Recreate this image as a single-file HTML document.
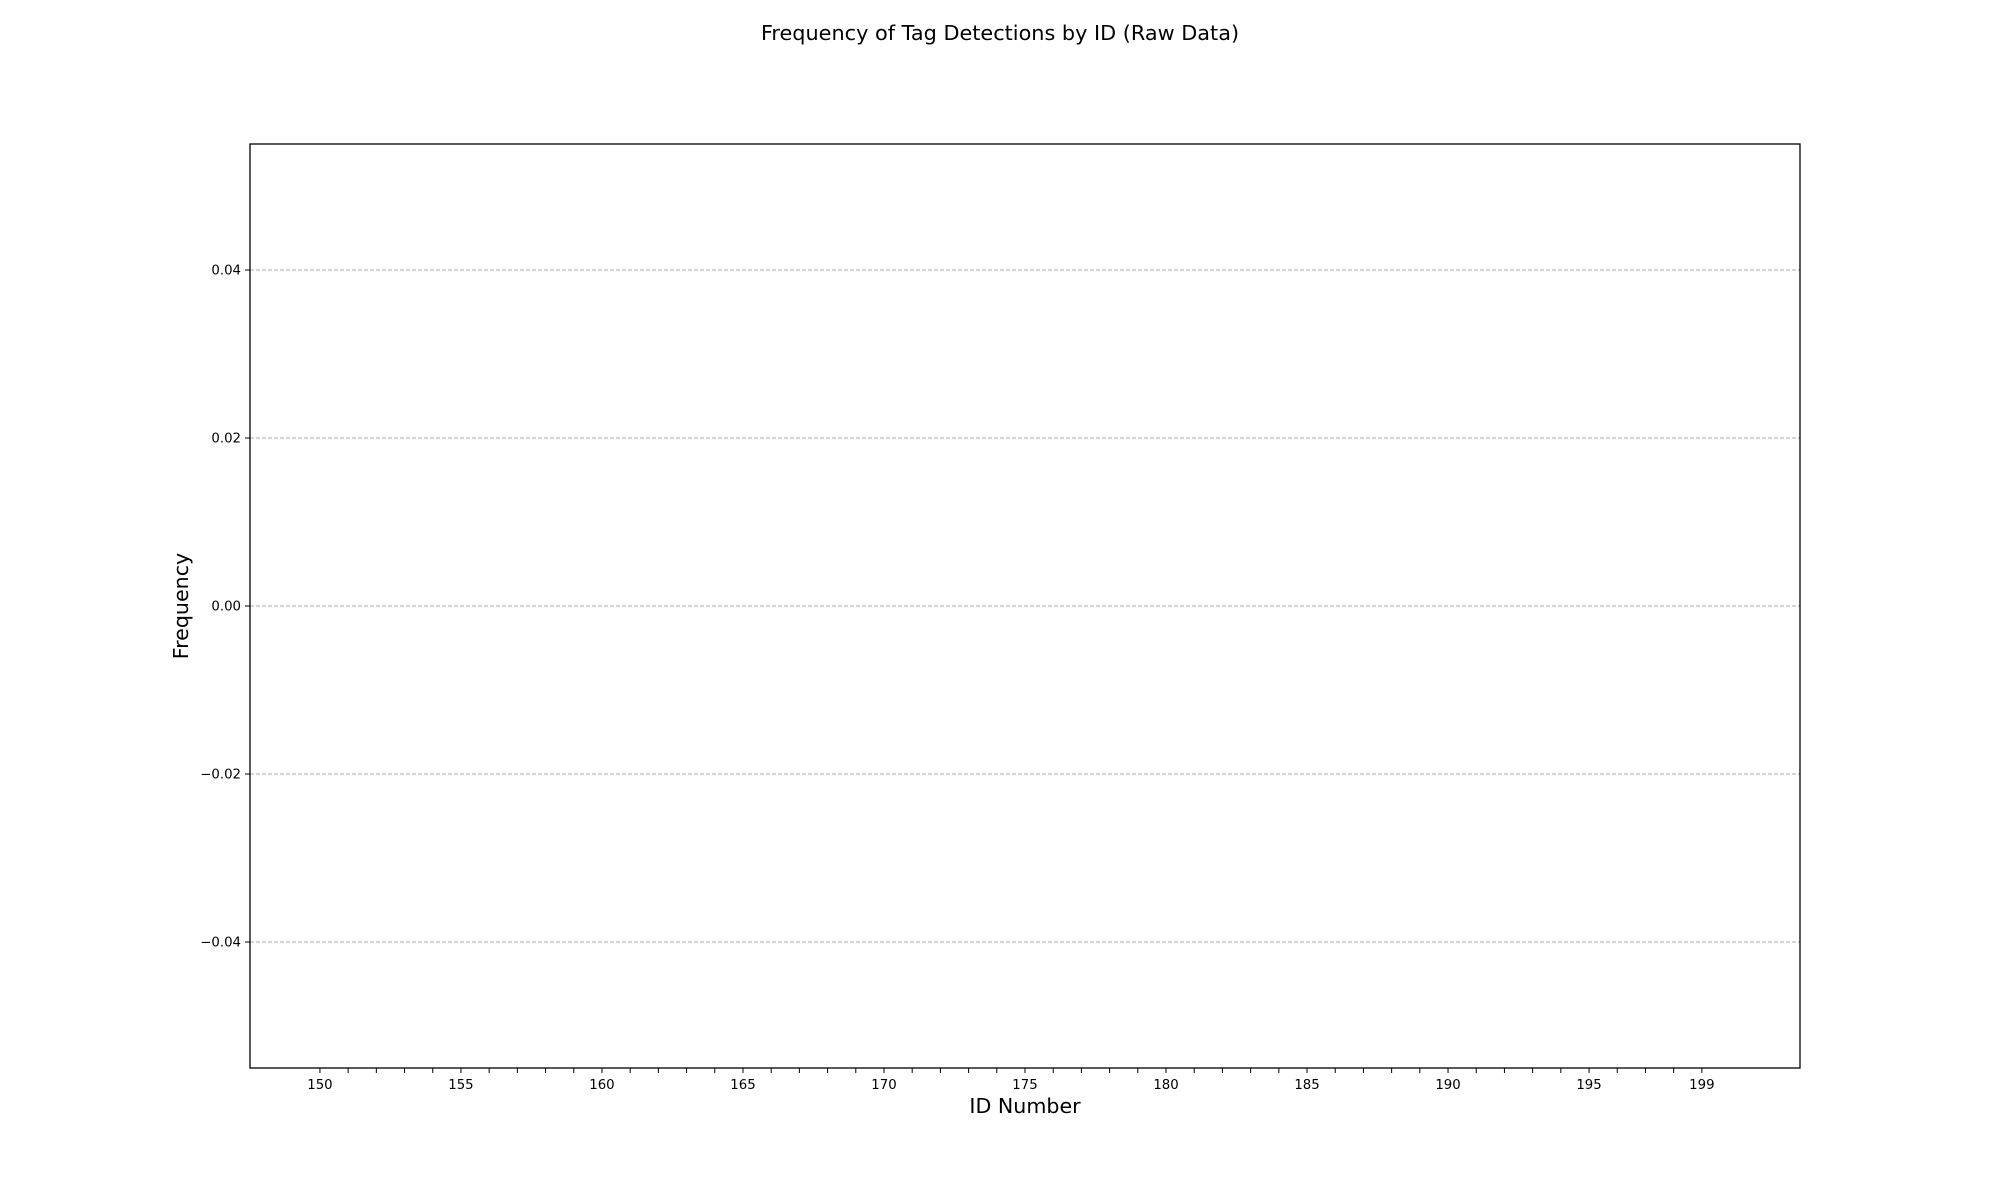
<!DOCTYPE html>
<html><head><meta charset="utf-8"><style>
html,body{margin:0;padding:0;background:#fff;}
svg{display:block;font-family:"DejaVu Sans","Liberation Sans",sans-serif;}
</style></head><body>
<svg id="chart" width="2000" height="1200" xmlns="http://www.w3.org/2000/svg">
<rect width="2000" height="1200" fill="#fff"/>
<text x="1000" y="40" text-anchor="middle" font-size="20.8">Frequency of Tag Detections by ID (Raw Data)</text>
<g id="grid"></g>
<g id="bars"></g>
<g id="axes"></g>
<rect x="250" y="144" width="1550" height="924" fill="none" stroke="#000" stroke-width="1.3"/>
<text x="1025" y="1113" text-anchor="middle" font-size="20.6">ID Number</text>
<text transform="translate(188,606) rotate(-90)" text-anchor="middle" font-size="20.6">Frequency</text>
</svg>
<script>
const ids = [];
for (let i = 150; i <= 199; i++) ids.push(i);
const counts = new Array(50).fill(0);
const xTickLabels = [150,155,160,165,170,175,180,185,190,195,199];
const yTicks = [-0.04,-0.02,0.00,0.02,0.04];
const yTickLabels = ["\u22120.04","\u22120.02","0.00","0.02","0.04"];

const L=250,R=1800,T=144,B=1068;
const xMin=147.52,xMax=202.48,yMin=-0.055,yMax=0.055;
const xs=v=>L+(v-xMin)/(xMax-xMin)*(R-L);
const ys=v=>B-(v-yMin)/(yMax-yMin)*(B-T);
const NS="http://www.w3.org/2000/svg";
function mk(tag,attrs,parent){const e=document.createElementNS(NS,tag);for(const k in attrs)e.setAttribute(k,attrs[k]);parent.appendChild(e);return e;}
const grid=document.getElementById('grid'),axes=document.getElementById('axes'),bars=document.getElementById('bars');
yTicks.forEach((v,i)=>{
  const y=ys(v);
  const g=mk('line',{x1:L,x2:R,y1:y,y2:y,stroke:'#a8a8a8','stroke-width':1,'stroke-dasharray':'4,2'},grid);
  
  
  const t=mk('line',{x1:L-5,x2:L,y1:y,y2:y,stroke:'#000','stroke-width':1},axes);
  
  
  const tx=mk('text',{x:L-9,y:y+4.5,'text-anchor':'end','font-size':13.3},axes);
  tx.textContent=yTickLabels[i];
  
  
});
ids.forEach((id,i)=>{
  const x=xs(id);
  const t=mk('line',{x1:x,x2:x,y1:B,y2:B+5,stroke:'#000','stroke-width':1},axes);
  
  
  const h=Math.abs(ys(counts[i])-ys(0));
  const b=mk('rect',{x:xs(id-0.4),width:xs(id+0.4)-xs(id-0.4),y:Math.min(ys(counts[i]),ys(0)),height:h,fill:'#4c72b0'},bars);
  
  
});
xTickLabels.forEach(v=>{
  const tx=mk('text',{x:xs(v),y:1089,'text-anchor':'middle','font-size':13.3},axes);
  tx.textContent=v;
  
  
});
</script>
</body></html>
